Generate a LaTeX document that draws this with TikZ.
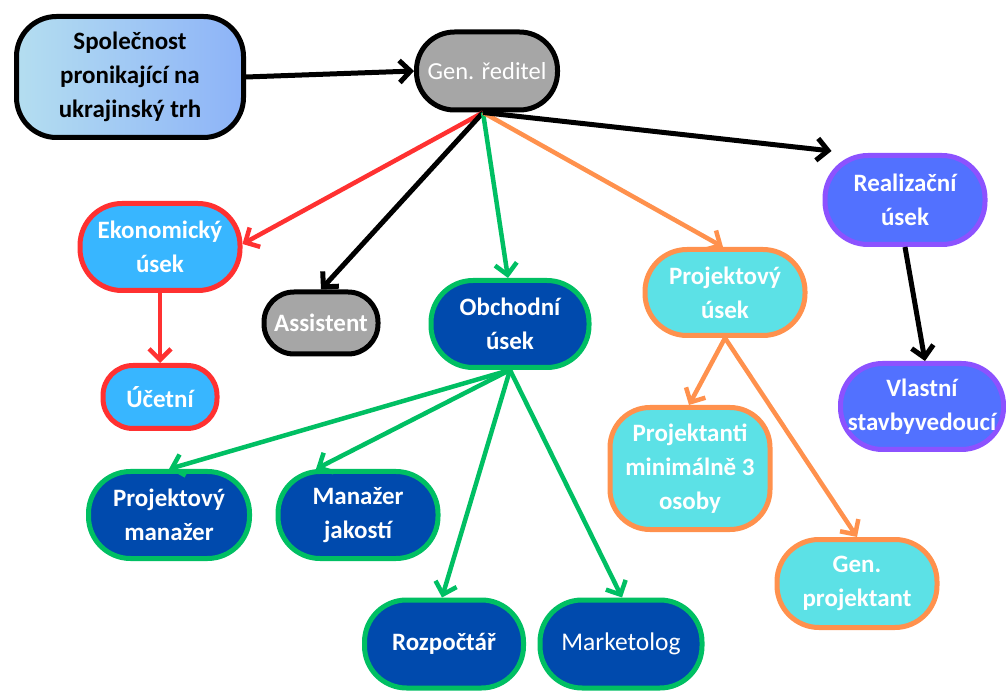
\documentclass[tikz,border=0pt]{standalone}
\usepackage{fontspec}
\setmainfont{Carlito}
\usetikzlibrary{arrows.meta}

\definecolor{grayfill}{HTML}{A6A6A6}
\definecolor{skyfill}{HTML}{38B6FF}
\definecolor{redline}{HTML}{FF3131}
\definecolor{navyfill}{HTML}{004AAD}
\definecolor{greenline}{HTML}{00BF63}
\definecolor{cyanfill}{HTML}{5CE1E6}
\definecolor{orangeline}{HTML}{FF914D}
\definecolor{royalfill}{HTML}{5271FF}
\definecolor{purpleline}{HTML}{8C52FF}
\definecolor{gradleft}{HTML}{B4DEF0}
\definecolor{gradright}{HTML}{8DB3F8}

\begin{document}
\begin{tikzpicture}[x=1pt,y=1pt,
  base/.style={rectangle, align=center, inner sep=0pt, line width=5pt,
    font=\fontsize{25}{34}\selectfont\bfseries, text=white},
  sz/.style 2 args={minimum width=#1, minimum height=#2},
  graybox/.style={base, draw=black, fill=grayfill},
  redbox/.style={base, draw=redline, fill=skyfill},
  greenbox/.style={base, draw=greenline, fill=navyfill},
  orangebox/.style={base, draw=orangeline, fill=cyanfill},
  purplebox/.style={base, draw=purpleline, fill=royalfill},
  link/.style={line width=4.5pt, -{Straight Barb[length=11pt,width=22pt]}},
  blacklink/.style={link, line width=5pt},
]
\useasboundingbox (0,0) rectangle (1006,691);

% top row
\node[base, draw=black, left color=gradleft, right color=gradright, text=black,
      sz={227}{121}, rounded corners=40] (soc) at (130,614)
      {Společnost\\pronikající na\\ukrajinský trh};
\node[graybox, sz={141}{78}, rounded corners=38, font=\fontsize{24.5}{30}\selectfont]
      (gen) at (487,620) {Gen. ředitel};

% departments
\node[purplebox, sz={160}{89}, rounded corners=43] (real) at (905,491) {Realizační\\úsek};
\node[redbox, sz={160}{87}, rounded corners=42] (eko) at (160,444) {Ekonomický\\úsek};
\node[graybox, sz={114}{62}, rounded corners=30] (asis) at (321,368) {Assistent};
\node[greenbox, sz={158}{87}, rounded corners=42] (obch) at (510,367) {Obchodní\\úsek};
\node[orangebox, sz={160}{86}, rounded corners=42] (pu) at (725,398.5) {Projektový\\úsek};

% staff
\node[redbox, sz={114}{63}, rounded corners=30] (uc) at (160,294) {Účetní};
\node[purplebox, sz={163}{86}, rounded corners=42] (vl) at (922,284.5) {Vlastní\\stavbyvedoucí};
\node[orangebox, sz={160}{122}, rounded corners=40] (pro) at (690,222.5)
      {Projektanti\\minimálně 3\\osoby};
\node[greenbox, sz={161}{87}, rounded corners=42] (pm) at (169,176) {Projektový\\manažer};
\node[greenbox, sz={160}{87}, rounded corners=42] (mj) at (358,176) {Manažer\\jakostí};
\node[greenbox, sz={159}{88}, rounded corners=42] (roz) at (444,47) {Rozpočtář};
\node[greenbox, sz={162}{88}, rounded corners=42, font=\fontsize{25.5}{34}\selectfont]
      (mar) at (621,47) {Marketolog};
\node[orangebox, sz={160}{88}, rounded corners=42] (gp) at (857,107.5) {Gen.\\projektant};

% connectors
\draw[blacklink] (soc.east) -- (gen.west);
\draw[link, draw=redline] ([xshift=-4pt]gen.south) -- ([yshift=3pt]eko.east);
\draw[blacklink] ([xshift=-4pt]gen.south) -- (asis.north);
\draw[link, draw=greenline] ([xshift=-4pt]gen.south) -- ([xshift=-2pt]obch.north);
\draw[link, draw=orangeline] ([xshift=-4pt]gen.south) -- ([xshift=-2pt]pu.north);
\draw[blacklink] ([xshift=-4pt]gen.south) -- ([xshift=9pt,yshift=2pt]real.north west);

\draw[link, draw=redline] (eko.south) -- (uc.north);
\draw[blacklink] (real.south) -- ([xshift=3pt]vl.north);

\draw[link, draw=greenline] (obch.south) -- (pm.north);
\draw[link, draw=greenline] (obch.south) -- ([xshift=-42pt]mj.north);
\draw[link, draw=greenline] (obch.south) -- ([xshift=-2pt]roz.north);
\draw[link, draw=greenline] (obch.south) -- ([xshift=1pt]mar.north);

\draw[link, draw=orangeline] (pu.south) -- ([xshift=-1pt]pro.north);
\draw[link, draw=orangeline] (pu.south) -- (gp.north);
\end{tikzpicture}
\end{document}
